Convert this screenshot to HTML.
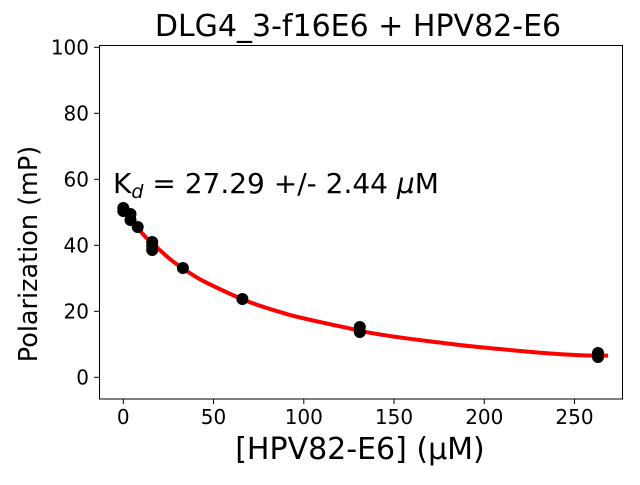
<!DOCTYPE html>
<html><head><style>body{margin:0;background:#fff}</style></head><body>
<svg width="640" height="480" xmlns="http://www.w3.org/2000/svg" font-family="DejaVu Sans, sans-serif">
<rect width="640" height="480" fill="#fff"/>
<text x="358" y="36" font-size="30" text-anchor="middle">DLG4_3-f16E6 + HPV82-E6</text>
<g stroke="#000" stroke-width="1">
<line x1="123.3" y1="399" x2="123.3" y2="404"/><line x1="213.5" y1="399" x2="213.5" y2="404"/><line x1="303.8" y1="399" x2="303.8" y2="404"/><line x1="394" y1="399" x2="394" y2="404"/><line x1="484.3" y1="399" x2="484.3" y2="404"/><line x1="574.5" y1="399" x2="574.5" y2="404"/>
<line x1="94" y1="47.3" x2="99.5" y2="47.3"/><line x1="94" y1="113.3" x2="99.5" y2="113.3"/><line x1="94" y1="179.3" x2="99.5" y2="179.3"/><line x1="94" y1="245.3" x2="99.5" y2="245.3"/><line x1="94" y1="311.3" x2="99.5" y2="311.3"/><line x1="94" y1="377.3" x2="99.5" y2="377.3"/>
</g>
<g font-size="20" text-anchor="middle">
<text x="123.3" y="424">0</text><text x="213.5" y="424">50</text><text x="303.8" y="424">100</text><text x="394" y="424">150</text><text x="484.3" y="424">200</text><text x="574.5" y="424">250</text>
</g>
<g font-size="20" text-anchor="end">
<text x="89" y="54.5">100</text><text x="89" y="120.5">80</text><text x="89" y="186.5">60</text><text x="89" y="252.5">40</text><text x="89" y="318.5">20</text><text x="89" y="384.5">0</text>
</g>
<text x="360" y="459" font-size="30" text-anchor="middle">[HPV82-E6] (μM)</text>
<text transform="translate(37,254) rotate(-90)" font-size="25.5" text-anchor="middle">Polarization (mP)</text>
<path d="M123.3,209 C128,215 133,222 137.7,227.9 S147,239 152.2,243.4 S163,253 168.4,257.7 S178,265 182.9,268.4 S197,278 204.5,281.7 S230,294 242.4,299.3 S270,309 285.8,313.8 S335,325 359.8,330.7 S420,340 448.2,343.6 S500,349 520.4,351 S580,356 608.1,355.6" fill="none" stroke="#f00" stroke-width="4"/>
<g fill="#000">
<ellipse cx="123.3" cy="208" rx="6" ry="6"/><ellipse cx="123.3" cy="211" rx="6" ry="6"/>
<ellipse cx="130.5" cy="214" rx="6" ry="6"/><ellipse cx="130.5" cy="220" rx="6" ry="6"/>
<ellipse cx="137.7" cy="227" rx="6" ry="6"/>
<ellipse cx="152.2" cy="242" rx="6" ry="6"/><ellipse cx="152.2" cy="250" rx="6" ry="6"/><ellipse cx="152.2" cy="246" rx="6" ry="6"/>
<ellipse cx="182.9" cy="268" rx="6" ry="6"/>
<ellipse cx="242.4" cy="299" rx="6" ry="6"/>
<ellipse cx="359.8" cy="327" rx="6" ry="6"/><ellipse cx="359.8" cy="332" rx="6" ry="6"/>
<ellipse cx="598" cy="353" rx="6" ry="6"/><ellipse cx="598" cy="357" rx="6" ry="6"/>
</g>
<text x="113" y="193" font-size="28">K<tspan font-size="19" font-style="italic" dy="5">d</tspan><tspan dy="-5"> = 27.29 +/- 2.44 </tspan><tspan font-style="italic">μ</tspan>M</text>
<rect x="99.5" y="45.5" width="523" height="353.5" fill="none" stroke="#000" stroke-width="1"/>
</svg>
</body></html>
